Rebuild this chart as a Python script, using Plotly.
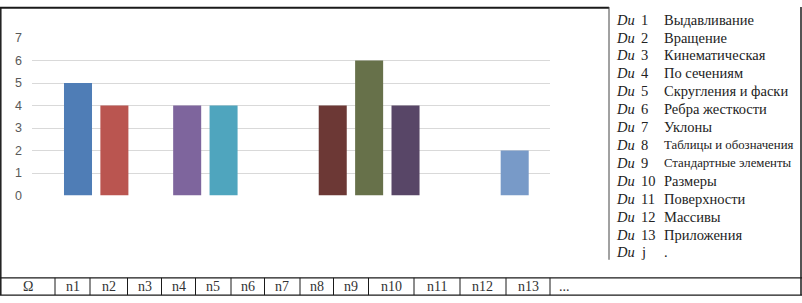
import plotly.graph_objects as go

# ---- data ----
categories = ["n1", "n2", "n3", "n4", "n5", "n6", "n7", "n8", "n9", "n10", "n11", "n12", "n13"]
values = [5, 4, 0, 4, 4, 0, 0, 4, 6, 4, 0, 0, 2]
bar_colors = ["#4F7DB6", "#BA5550", "#888888", "#7E659D", "#4FA5BE", "#888888", "#888888",
              "#6C3835", "#67714A", "#584667", "#888888", "#888888", "#789AC8"]
y_ticks = [0, 1, 2, 3, 4, 5, 6, 7]

legend_ids = ["1", "2", "3", "4", "5", "6", "7", "8", "9", "10", "11", "12", "13", "j"]
legend_names = ["Выдавливание", "Вращение", "Кинематическая", "По сечениям",
                "Скругления и фаски", "Ребра жесткости", "Уклоны",
                "Таблицы и обозначения", "Стандартные элементы", "Размеры",
                "Поверхности", "Массивы", "Приложения", "."]

table_labels = ["Ω", "n1", "n2", "n3", "n4", "n5", "n6", "n7", "n8", "n9",
                "n10", "n11", "n12", "n13", "..."]

# ---- layout helpers (pixel -> paper) ----
W, H = 802, 303
def px(x):
    return x / W
def py(y):
    return 1 - y / H

fig = go.Figure()
fig.add_trace(go.Bar(
    x=categories, y=values,
    marker=dict(color=bar_colors, line=dict(width=0)),
    hoverinfo="x+y",
))

shapes = []
annotations = []
dark = "#1a1a1a"

# outer frame
shapes.append(dict(type="line", xref="paper", yref="paper", x0=px(0), x1=px(609), y0=py(0.8), y1=py(0.8),
                   line=dict(color=dark, width=2)))
shapes.append(dict(type="line", xref="paper", yref="paper", x0=px(0.8), x1=px(0.8), y0=py(0), y1=py(302),
                   line=dict(color=dark, width=1.5)))
shapes.append(dict(type="line", xref="paper", yref="paper", x0=px(801), x1=px(801), y0=py(0), y1=py(302),
                   line=dict(color=dark, width=1.5)))
# legend box left line
shapes.append(dict(type="line", xref="paper", yref="paper", x0=px(609), x1=px(609), y0=py(0), y1=py(265),
                   line=dict(color="#444444", width=1)))
# table row
for yy in (284, 302):
    shapes.append(dict(type="line", xref="paper", yref="paper", x0=px(0), x1=px(802), y0=py(yy), y1=py(yy),
                       line=dict(color=dark, width=1.2)))
cell_edges = [0, 55, 90, 127.5, 161.5, 195.5, 231, 264.5, 300, 333.5, 368.5, 414, 460, 506, 550, 801]
for xx in cell_edges[1:-1]:
    shapes.append(dict(type="line", xref="paper", yref="paper", x0=px(xx), x1=px(xx), y0=py(284), y1=py(302),
                       line=dict(color=dark, width=1)))

serif = "Liberation Serif"
for i, lab in enumerate(table_labels):
    if lab == "...":
        annotations.append(dict(xref="paper", yref="paper", x=px(557), y=py(293), text=lab,
                                showarrow=False, xanchor="left", yanchor="middle",
                                font=dict(family=serif, size=14, color="#333333")))
    else:
        cx = (cell_edges[i] + cell_edges[i + 1]) / 2
        annotations.append(dict(xref="paper", yref="paper", x=px(cx), y=py(293), text=lab,
                                showarrow=False, xanchor="center", yanchor="middle",
                                font=dict(family=serif, size=14, color="#333333")))

# legend list
for k, (lid, name) in enumerate(zip(legend_ids, legend_names)):
    yy = 13.3 + k * 18.77
    annotations.append(dict(xref="paper", yref="paper", x=px(614), y=py(yy), text="<i>Du</i>",
                            showarrow=False, xanchor="left", yanchor="middle",
                            font=dict(family=serif, size=14.5, color="#222222")))
    annotations.append(dict(xref="paper", yref="paper", x=px(638.5), y=py(yy), text=lid,
                            showarrow=False, xanchor="left", yanchor="middle",
                            font=dict(family=serif, size=14.5, color="#222222")))
    fs = 14.5 if len(name) < 19 else 12.8
    annotations.append(dict(xref="paper", yref="paper", x=px(662), y=py(yy), text=name,
                            showarrow=False, xanchor="left", yanchor="middle",
                            font=dict(family=serif, size=fs, color="#222222")))

fig.update_layout(
    width=W, height=H,
    margin=dict(l=0, r=0, t=0, b=0),
    paper_bgcolor="white", plot_bgcolor="white",
    showlegend=False,
    bargap=0.23,
    xaxis=dict(domain=[px(32), px(550)], range=[-1.264, 12.97], showticklabels=False,
               showgrid=False, zeroline=False, showline=False, ticks="", type="category"),
    yaxis=dict(domain=[py(197.7), py(32.5)], range=[0, 7], tickvals=y_ticks,
               showgrid=True, gridcolor="#D9D9D9", gridwidth=1, zeroline=False, showline=False,
               tickfont=dict(family="Liberation Sans", size=12.5, color="#595959"),
               ticklabelstandoff=9, ticks=""),
    shapes=shapes,
    annotations=annotations,
)

post = ("document.body.style.margin='0';document.body.style.padding='0';"
        "var d=document.getElementById('{plot_id}');"
        "d.style.position='absolute';d.style.left='0px';d.style.top='0px';")
fig.write_html("out.html", post_script=post, config={"displayModeBar": False})
